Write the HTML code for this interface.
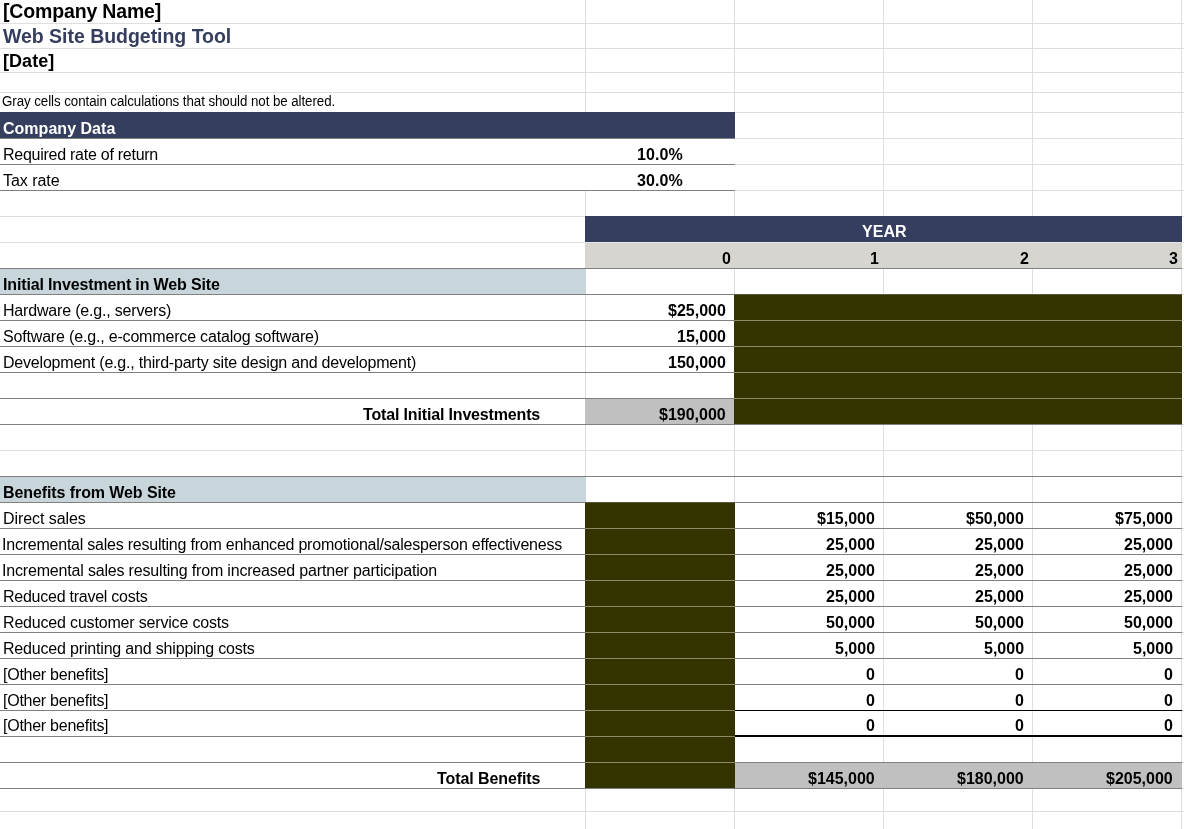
<!DOCTYPE html>
<html lang="en">
<head>
<meta charset="utf-8">
<title>Web Site Budgeting Tool</title>
<style>
html,body{margin:0;padding:0;background:#fff;}
body{width:1184px;height:829px;position:relative;overflow:hidden;font-family:"Liberation Sans",sans-serif;font-size:16px;color:#000;}
.r{position:absolute;}
.t{position:absolute;white-space:nowrap;height:30px;line-height:30px;}
.b{font-weight:bold;}
</style>
</head>
<body>
<div class="r" style="left:0px;top:23px;width:1184px;height:1px;background:#dedede"></div>
<div class="r" style="left:0px;top:48px;width:1184px;height:1px;background:#dedede"></div>
<div class="r" style="left:0px;top:72px;width:1184px;height:1px;background:#dedede"></div>
<div class="r" style="left:0px;top:92px;width:1184px;height:1px;background:#dedede"></div>
<div class="r" style="left:0px;top:112px;width:1184px;height:1px;background:#dedede"></div>
<div class="r" style="left:0px;top:138px;width:1184px;height:1px;background:#dedede"></div>
<div class="r" style="left:0px;top:164px;width:1184px;height:1px;background:#dedede"></div>
<div class="r" style="left:0px;top:190px;width:1184px;height:1px;background:#dedede"></div>
<div class="r" style="left:0px;top:216px;width:1184px;height:1px;background:#dedede"></div>
<div class="r" style="left:0px;top:242px;width:1184px;height:1px;background:#dedede"></div>
<div class="r" style="left:0px;top:268px;width:1184px;height:1px;background:#dedede"></div>
<div class="r" style="left:0px;top:294px;width:1184px;height:1px;background:#dedede"></div>
<div class="r" style="left:0px;top:320px;width:1184px;height:1px;background:#dedede"></div>
<div class="r" style="left:0px;top:346px;width:1184px;height:1px;background:#dedede"></div>
<div class="r" style="left:0px;top:372px;width:1184px;height:1px;background:#dedede"></div>
<div class="r" style="left:0px;top:398px;width:1184px;height:1px;background:#dedede"></div>
<div class="r" style="left:0px;top:424px;width:1184px;height:1px;background:#dedede"></div>
<div class="r" style="left:0px;top:450px;width:1184px;height:1px;background:#dedede"></div>
<div class="r" style="left:0px;top:476px;width:1184px;height:1px;background:#dedede"></div>
<div class="r" style="left:0px;top:502px;width:1184px;height:1px;background:#dedede"></div>
<div class="r" style="left:0px;top:528px;width:1184px;height:1px;background:#dedede"></div>
<div class="r" style="left:0px;top:554px;width:1184px;height:1px;background:#dedede"></div>
<div class="r" style="left:0px;top:580px;width:1184px;height:1px;background:#dedede"></div>
<div class="r" style="left:0px;top:606px;width:1184px;height:1px;background:#dedede"></div>
<div class="r" style="left:0px;top:632px;width:1184px;height:1px;background:#dedede"></div>
<div class="r" style="left:0px;top:658px;width:1184px;height:1px;background:#dedede"></div>
<div class="r" style="left:0px;top:684px;width:1184px;height:1px;background:#dedede"></div>
<div class="r" style="left:0px;top:710px;width:1184px;height:1px;background:#dedede"></div>
<div class="r" style="left:0px;top:736px;width:1184px;height:1px;background:#dedede"></div>
<div class="r" style="left:0px;top:762px;width:1184px;height:1px;background:#dedede"></div>
<div class="r" style="left:0px;top:788px;width:1184px;height:1px;background:#dedede"></div>
<div class="r" style="left:0px;top:811px;width:1184px;height:1px;background:#dedede"></div>
<div class="r" style="left:585px;top:0px;width:1px;height:829px;background:#dedede"></div>
<div class="r" style="left:734px;top:0px;width:1px;height:829px;background:#dedede"></div>
<div class="r" style="left:883px;top:0px;width:1px;height:829px;background:#dedede"></div>
<div class="r" style="left:1032px;top:0px;width:1px;height:829px;background:#dedede"></div>
<div class="r" style="left:1181px;top:0px;width:1px;height:829px;background:#dedede"></div>
<div class="r" style="left:0px;top:139px;width:735px;height:51px;background:#fff"></div>
<div class="r" style="left:0px;top:112px;width:735px;height:26px;background:#353e5e"></div>
<div class="r" style="left:585px;top:216px;width:597px;height:26px;background:#353e5e"></div>
<div class="r" style="left:585px;top:242px;width:597px;height:26px;background:#d6d5cf"></div>
<div class="r" style="left:585px;top:242px;width:597px;height:1px;background:#e6e6ea"></div>
<div class="r" style="left:0px;top:269px;width:586px;height:25px;background:#c8d6dc"></div>
<div class="r" style="left:734px;top:295px;width:448px;height:129px;background:#333300"></div>
<div class="r" style="left:585px;top:399px;width:149px;height:25px;background:#c0c0c0"></div>
<div class="r" style="left:0px;top:477px;width:586px;height:25px;background:#c8d6dc"></div>
<div class="r" style="left:585px;top:503px;width:150px;height:285px;background:#333300"></div>
<div class="r" style="left:735px;top:763px;width:447px;height:25px;background:#c0c0c0"></div>
<div class="r" style="left:0px;top:138px;width:735px;height:1px;background:#808080"></div>
<div class="r" style="left:0px;top:164px;width:735px;height:1px;background:#808080"></div>
<div class="r" style="left:0px;top:190px;width:735px;height:1px;background:#808080"></div>
<div class="r" style="left:0px;top:268px;width:1182px;height:1px;background:#808080"></div>
<div class="r" style="left:0px;top:294px;width:1182px;height:1px;background:#808080"></div>
<div class="r" style="left:0px;top:320px;width:1182px;height:1px;background:#808080"></div>
<div class="r" style="left:0px;top:346px;width:1182px;height:1px;background:#808080"></div>
<div class="r" style="left:0px;top:372px;width:1182px;height:1px;background:#808080"></div>
<div class="r" style="left:0px;top:398px;width:1182px;height:1px;background:#808080"></div>
<div class="r" style="left:0px;top:424px;width:1182px;height:1px;background:#808080"></div>
<div class="r" style="left:0px;top:476px;width:1182px;height:1px;background:#808080"></div>
<div class="r" style="left:0px;top:502px;width:1182px;height:1px;background:#808080"></div>
<div class="r" style="left:0px;top:528px;width:1182px;height:1px;background:#808080"></div>
<div class="r" style="left:0px;top:554px;width:1182px;height:1px;background:#808080"></div>
<div class="r" style="left:0px;top:580px;width:1182px;height:1px;background:#808080"></div>
<div class="r" style="left:0px;top:606px;width:1182px;height:1px;background:#808080"></div>
<div class="r" style="left:0px;top:632px;width:1182px;height:1px;background:#808080"></div>
<div class="r" style="left:0px;top:658px;width:1182px;height:1px;background:#808080"></div>
<div class="r" style="left:0px;top:684px;width:1182px;height:1px;background:#808080"></div>
<div class="r" style="left:0px;top:710px;width:1182px;height:1px;background:#808080"></div>
<div class="r" style="left:0px;top:736px;width:1182px;height:1px;background:#808080"></div>
<div class="r" style="left:0px;top:762px;width:1182px;height:1px;background:#808080"></div>
<div class="r" style="left:0px;top:788px;width:1182px;height:1px;background:#808080"></div>
<div class="r" style="left:734px;top:320px;width:448px;height:1px;background:#8c8a6a"></div>
<div class="r" style="left:734px;top:346px;width:448px;height:1px;background:#8c8a6a"></div>
<div class="r" style="left:734px;top:372px;width:448px;height:1px;background:#8c8a6a"></div>
<div class="r" style="left:734px;top:398px;width:448px;height:1px;background:#8c8a6a"></div>
<div class="r" style="left:734px;top:294px;width:448px;height:1px;background:#5c5a3a"></div>
<div class="r" style="left:585px;top:528px;width:150px;height:1px;background:#8c8a6a"></div>
<div class="r" style="left:585px;top:554px;width:150px;height:1px;background:#8c8a6a"></div>
<div class="r" style="left:585px;top:580px;width:150px;height:1px;background:#8c8a6a"></div>
<div class="r" style="left:585px;top:606px;width:150px;height:1px;background:#8c8a6a"></div>
<div class="r" style="left:585px;top:632px;width:150px;height:1px;background:#8c8a6a"></div>
<div class="r" style="left:585px;top:658px;width:150px;height:1px;background:#8c8a6a"></div>
<div class="r" style="left:585px;top:684px;width:150px;height:1px;background:#8c8a6a"></div>
<div class="r" style="left:585px;top:710px;width:150px;height:1px;background:#8c8a6a"></div>
<div class="r" style="left:585px;top:736px;width:150px;height:1px;background:#8c8a6a"></div>
<div class="r" style="left:585px;top:762px;width:150px;height:1px;background:#8c8a6a"></div>
<div class="r" style="left:585px;top:502px;width:150px;height:1px;background:#5c5a3a"></div>
<div class="r" style="left:735px;top:710px;width:447px;height:1px;background:#000"></div>
<div class="r" style="left:735px;top:735px;width:447px;height:2px;background:#000"></div>
<div class="t b" style="left:3px;top:-4px;font-size:19.5px;letter-spacing:-0.159px;">[Company Name]</div>
<div class="t b" style="left:3px;top:21px;font-size:19.5px;color:#353e5e;letter-spacing:-0.031px;">Web Site Budgeting Tool</div>
<div class="t b" style="left:3px;top:46px;font-size:18px;letter-spacing:0.065px;">[Date]</div>
<div class="t" style="left:2px;top:87px;font-size:13.33px;letter-spacing:-0.067px;transform:scaleY(1.1);transform-origin:0 19px;">Gray cells contain calculations that should not be altered.</div>
<div class="t b" style="left:3px;top:114px;color:#fff;letter-spacing:0.023px;">Company Data</div>
<div class="t" style="left:3px;top:140px;letter-spacing:-0.26px;">Required rate of return</div>
<div class="t" style="left:3px;top:166px;letter-spacing:-0.044px;">Tax rate</div>
<div class="t b" style="left:637px;top:140px;letter-spacing:0.1px;">10.0%</div>
<div class="t b" style="left:637px;top:166px;letter-spacing:0.1px;">30.0%</div>
<div class="t b" style="left:862px;top:217px;color:#fff;letter-spacing:0.044px;">YEAR</div>
<div class="t b" style="left:722px;top:244px;">0</div>
<div class="t b" style="left:870px;top:244px;">1</div>
<div class="t b" style="left:1020px;top:244px;">2</div>
<div class="t b" style="left:1169px;top:244px;">3</div>
<div class="t b" style="left:3px;top:270px;letter-spacing:-0.146px;">Initial Investment in Web Site</div>
<div class="t" style="left:3px;top:296px;letter-spacing:-0.182px;">Hardware (e.g., servers)</div>
<div class="t" style="left:3px;top:322px;letter-spacing:-0.175px;">Software (e.g., e-commerce catalog software)</div>
<div class="t" style="left:3px;top:348px;letter-spacing:-0.204px;">Development (e.g., third-party site design and development)</div>
<div class="t b" style="left:668px;top:296px;">$25,000</div>
<div class="t b" style="left:677px;top:322px;">15,000</div>
<div class="t b" style="left:668px;top:348px;">150,000</div>
<div class="t b" style="left:659px;top:400px;">$190,000</div>
<div class="t b" style="left:363px;top:400px;letter-spacing:-0.159px;">Total Initial Investments</div>
<div class="t b" style="left:3px;top:478px;letter-spacing:-0.089px;">Benefits from Web Site</div>
<div class="t" style="left:3px;top:504px;letter-spacing:-0.066px;">Direct sales</div>
<div class="t b" style="left:817px;top:504px;">$15,000</div>
<div class="t b" style="left:966px;top:504px;">$50,000</div>
<div class="t b" style="left:1115px;top:504px;">$75,000</div>
<div class="t" style="left:2px;top:530px;letter-spacing:-0.226px;">Incremental sales resulting from enhanced promotional/salesperson effectiveness</div>
<div class="t b" style="left:826px;top:530px;">25,000</div>
<div class="t b" style="left:975px;top:530px;">25,000</div>
<div class="t b" style="left:1124px;top:530px;">25,000</div>
<div class="t" style="left:2px;top:556px;letter-spacing:-0.179px;">Incremental sales resulting from increased partner participation</div>
<div class="t b" style="left:826px;top:556px;">25,000</div>
<div class="t b" style="left:975px;top:556px;">25,000</div>
<div class="t b" style="left:1124px;top:556px;">25,000</div>
<div class="t" style="left:3px;top:582px;letter-spacing:-0.25px;">Reduced travel costs</div>
<div class="t b" style="left:826px;top:582px;">25,000</div>
<div class="t b" style="left:975px;top:582px;">25,000</div>
<div class="t b" style="left:1124px;top:582px;">25,000</div>
<div class="t" style="left:3px;top:608px;letter-spacing:-0.178px;">Reduced customer service costs</div>
<div class="t b" style="left:826px;top:608px;">50,000</div>
<div class="t b" style="left:975px;top:608px;">50,000</div>
<div class="t b" style="left:1124px;top:608px;">50,000</div>
<div class="t" style="left:3px;top:634px;letter-spacing:-0.18px;">Reduced printing and shipping costs</div>
<div class="t b" style="left:835px;top:634px;">5,000</div>
<div class="t b" style="left:984px;top:634px;">5,000</div>
<div class="t b" style="left:1133px;top:634px;">5,000</div>
<div class="t" style="left:3px;top:660px;letter-spacing:-0.255px;">[Other benefits]</div>
<div class="t b" style="left:866px;top:660px;">0</div>
<div class="t b" style="left:1015px;top:660px;">0</div>
<div class="t b" style="left:1164px;top:660px;">0</div>
<div class="t" style="left:3px;top:686px;letter-spacing:-0.255px;">[Other benefits]</div>
<div class="t b" style="left:866px;top:686px;">0</div>
<div class="t b" style="left:1015px;top:686px;">0</div>
<div class="t b" style="left:1164px;top:686px;">0</div>
<div class="t" style="left:3px;top:711px;letter-spacing:-0.255px;">[Other benefits]</div>
<div class="t b" style="left:866px;top:711px;">0</div>
<div class="t b" style="left:1015px;top:711px;">0</div>
<div class="t b" style="left:1164px;top:711px;">0</div>
<div class="t b" style="left:437px;top:764px;letter-spacing:-0.09px;">Total Benefits</div>
<div class="t b" style="left:808px;top:764px;">$145,000</div>
<div class="t b" style="left:957px;top:764px;">$180,000</div>
<div class="t b" style="left:1106px;top:764px;">$205,000</div>
</body>
</html>
